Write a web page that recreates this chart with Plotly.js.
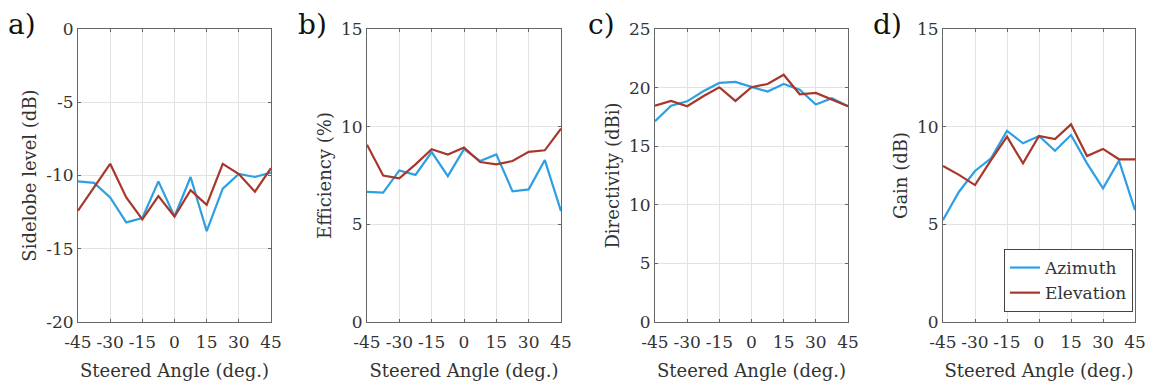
<!DOCTYPE html>
<html>
<head>
<meta charset="utf-8">
<script src="https://cdn.plot.ly/plotly-3.0.1.min.js"></script>
<style>html,body{margin:0;padding:0;background:#fff;}#chart{width:1163px;height:388px;}</style>
</head>
<body>
<div id="chart"></div>
<script>
// Steered angles (deg.)
const angles = [-45, -37.5, -30, -22.5, -15, -7.5, 0, 7.5, 15, 22.5, 30, 37.5, 45];

// a) Sidelobe level (dB)
const sidelobeAzimuth   = [-10.4, -10.5, -11.5, -13.2, -12.9, -10.4, -12.8, -10.1, -13.8, -10.9, -9.9, -10.1, -9.8];
const sidelobeElevation = [-12.4, -10.8, -9.2, -11.5, -13.0, -11.4, -12.8, -11.0, -12.0, -9.2, -9.9, -11.1, -9.5];

// b) Efficiency (%)
const efficiencyAzimuth   = [6.66, 6.62, 7.76, 7.53, 8.7, 7.47, 8.85, 8.24, 8.58, 6.69, 6.79, 8.29, 5.68];
const efficiencyElevation = [9.08, 7.5, 7.35, 8.07, 8.85, 8.57, 8.93, 8.19, 8.07, 8.24, 8.71, 8.79, 9.9];

// c) Directivity (dBi)
const directivityAzimuth   = [17.13, 18.46, 18.83, 19.69, 20.4, 20.48, 20.06, 19.66, 20.31, 19.83, 18.55, 19.09, 18.41];
const directivityElevation = [18.46, 18.86, 18.41, 19.26, 20.03, 18.86, 20.03, 20.31, 21.1, 19.43, 19.54, 18.97, 18.41];

// d) Gain (dB)
const gainAzimuth   = [5.22, 6.67, 7.73, 8.38, 9.78, 9.15, 9.52, 8.77, 9.57, 8.12, 6.84, 8.26, 5.73];
const gainElevation = [7.99, 7.53, 7.01, 8.29, 9.49, 8.12, 9.52, 9.37, 10.12, 8.5, 8.86, 8.33, 8.33];

// Tick labels
const xTickVals = [-45, -30, -15, 0, 15, 30, 45];
const xTickText = ["-45", "-30", "-15", "0", "15", "30", "45"];
const yTickValsA = [-20, -15, -10, -5, 0];
const yTickTextA = ["-20", "-15", "-10", "-5", "0"];
const yTickValsB = [0, 5, 10, 15];
const yTickTextB = ["0", "5", "10", "15"];
const yTickValsC = [0, 5, 10, 15, 20, 25];
const yTickTextC = ["0", "5", "10", "15", "20", "25"];
const yTickValsD = [0, 5, 10, 15];
const yTickTextD = ["0", "5", "10", "15"];

const seriesNames = ["Azimuth", "Elevation"];
const panelLabels = ["a)", "b)", "c)", "d)"];
const yTitles = ["Sidelobe level (dB)", "Efficiency (%)", "Directivity (dBi)", "Gain (dB)"];
const xTitle = "Steered Angle (deg.)";

const W = 1163, H = 388;
const BLUE = "#2d9fe3", RED = "#a8372b";
const FONT = "DejaVu Serif";

const panelX = [[78, 271], [367, 561], [655, 848], [943, 1135]];
const plotTop = 29, plotBottom = 322;
const yDom = [(H - plotBottom) / H, (H - plotTop) / H];

const azData = [sidelobeAzimuth, efficiencyAzimuth, directivityAzimuth, gainAzimuth];
const elData = [sidelobeElevation, efficiencyElevation, directivityElevation, gainElevation];
const yRanges = [[-20, 0], [0, 15], [0, 25], [0, 15]];
const yTicks = [[yTickValsA, yTickTextA], [yTickValsB, yTickTextB], [yTickValsC, yTickTextC], [yTickValsD, yTickTextD]];

const traces = [];
const layout = {
  width: W, height: H,
  margin: {l: 0, r: 0, t: 0, b: 0},
  paper_bgcolor: "#fff", plot_bgcolor: "#fff",
  showlegend: true,
  legend: {
    x: 1133 / W, xanchor: "right", y: (H - 312) / H, yanchor: "bottom",
    bordercolor: "#444", borderwidth: 1, bgcolor: "#fff",
    font: {family: FONT, size: 17, color: "#333"},
    tracegroupgap: 0
  },
  annotations: [],
  font: {family: FONT, color: "#333"}
};

const labelX = [6, 296, 586, 871];

for (let i = 0; i < 4; i++) {
  const n = i === 0 ? "" : String(i + 1);
  const xa = "x" + n, ya = "y" + n;
  traces.push({
    x: angles, y: azData[i], xaxis: xa, yaxis: ya, type: "scatter", mode: "lines",
    name: seriesNames[0], line: {color: BLUE, width: 2.2}, showlegend: i === 3
  });
  traces.push({
    x: angles, y: elData[i], xaxis: xa, yaxis: ya, type: "scatter", mode: "lines",
    name: seriesNames[1], line: {color: RED, width: 2.2}, showlegend: i === 3
  });
  layout["xaxis" + n] = {
    domain: [panelX[i][0] / W, panelX[i][1] / W],
    anchor: ya, range: [-45, 45],
    tickvals: xTickVals, ticktext: xTickText,
    showgrid: true, gridcolor: "#e3e3e3", gridwidth: 1,
    zeroline: false, showline: true, linecolor: "#666", linewidth: 1, mirror: "ticks",
    ticks: "inside", ticklen: 3, tickcolor: "#666",
    ticklabelstandoff: 5,
    tickfont: {family: FONT, size: 17, color: "#333"},
    title: {text: xTitle, font: {family: FONT, size: 18, color: "#333"}, standoff: 12},
    fixedrange: true
  };
  layout["yaxis" + n] = {
    domain: yDom, anchor: xa, range: yRanges[i],
    tickvals: yTicks[i][0], ticktext: yTicks[i][1],
    showgrid: true, gridcolor: "#e3e3e3", gridwidth: 1,
    zeroline: false, showline: true, linecolor: "#666", linewidth: 1, mirror: "ticks",
    ticks: "inside", ticklen: 3, tickcolor: "#666",
    tickfont: {family: FONT, size: 17, color: "#333"},
    title: {text: yTitles[i], font: {family: FONT, size: 18, color: "#333"}, standoff: 4},
    fixedrange: true
  };
  layout.annotations.push({
    text: panelLabels[i], xref: "paper", yref: "paper",
    x: labelX[i] / W, xanchor: "left", y: (H - 24) / H, yanchor: "middle",
    showarrow: false, font: {family: FONT, size: 28, color: "#111"}
  });
}

Plotly.newPlot("chart", traces, layout, {staticPlot: true, displayModeBar: false});
</script>
</body>
</html>
